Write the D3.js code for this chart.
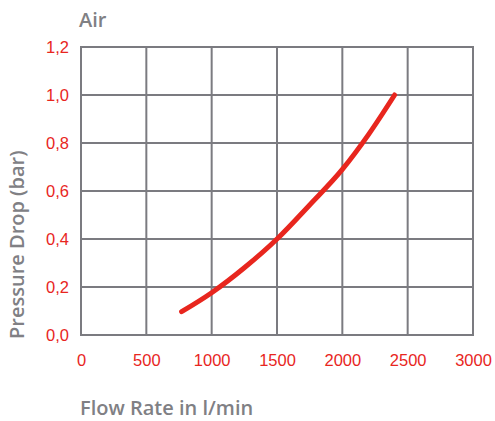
<!DOCTYPE html>
<html><head><meta charset="utf-8">
<script src="https://cdn.jsdelivr.net/npm/d3@7"></script>
<style>body{margin:0;background:#fff}svg{display:block}</style>
</head><body><div id="chart"></div>
<script>
const flowRate = [770, 1000, 1250, 1500, 1750, 2000, 2200, 2400];
const pressureDrop = [0.097, 0.176, 0.28, 0.40, 0.542, 0.69, 0.835, 1.0];
const xTicks = [0, 500, 1000, 1500, 2000, 2500, 3000];
const yTicks = [0, 0.2, 0.4, 0.6, 0.8, 1.0, 1.2];
const chartTitle = "Air";
const xTitle = "Flow Rate in l/min";
const yTitle = "Pressure Drop (bar)";

const W = 495, H = 421;
const m = {left: 81, right: 22, top: 47, bottom: 86};
const svg = d3.select("#chart").append("svg").attr("width", W).attr("height", H);
const x = d3.scaleLinear().domain([0, 3000]).range([m.left, W - m.right]);
const y = d3.scaleLinear().domain([0, 1.2]).range([H - m.bottom, m.top]);
const grid = "#7b7b80", red = "#e8261e", gray = "#808084";
const fmt = v => d3.format(".1f")(v).replace(".", ",");

// grid
svg.append("g").selectAll("line").data(xTicks).join("line")
  .attr("x1", d => x(d)).attr("x2", d => x(d)).attr("y1", y(0)).attr("y2", y(1.2))
  .attr("stroke", grid).attr("stroke-width", 2);
svg.append("g").selectAll("line").data(yTicks).join("line")
  .attr("y1", d => y(d)).attr("y2", d => y(d)).attr("x1", x(0) - 1).attr("x2", x(3000) + 1)
  .attr("stroke", grid).attr("stroke-width", 2);

// axes labels using d3 axes
const xAxis = svg.append("g").attr("transform", `translate(0,${y(0)})`)
  .call(d3.axisBottom(x).tickValues(xTicks).tickSize(0).tickPadding(19).tickFormat(d3.format("d")));
const yAxis = svg.append("g").attr("transform", `translate(${x(0)},0)`)
  .call(d3.axisLeft(y).tickValues(yTicks).tickSize(0).tickPadding(12).tickFormat(fmt));
[xAxis, yAxis].forEach(a => {
  a.select(".domain").remove();
  a.selectAll("text").attr("fill", red).attr("font-family", "'Liberation Sans', Arial, sans-serif").attr("font-size", 16.5);
});

// curve
const pts = flowRate.map((f, i) => [f, pressureDrop[i]]);
svg.append("path").datum(pts)
  .attr("d", d3.line().x(d => x(d[0])).y(d => y(d[1])).curve(d3.curveMonotoneX))
  .attr("fill", "none").attr("stroke", red).attr("stroke-width", 5).attr("stroke-linecap", "round");

// titles
const tf = "'Open Sans', sans-serif";
svg.append("text").attr("x", 79).attr("y", 27).text(chartTitle)
  .attr("fill", gray).attr("font-family", tf).attr("font-weight", 600).attr("font-size", 20);
svg.append("text").attr("x", 80).attr("y", 415).text(xTitle)
  .attr("fill", gray).attr("font-family", tf).attr("font-weight", 600).attr("font-size", 20);
svg.append("text").attr("transform", "translate(24,339) rotate(-90)").text(yTitle)
  .attr("fill", gray).attr("font-family", tf).attr("font-weight", 600).attr("font-size", 20);
</script></body></html>
